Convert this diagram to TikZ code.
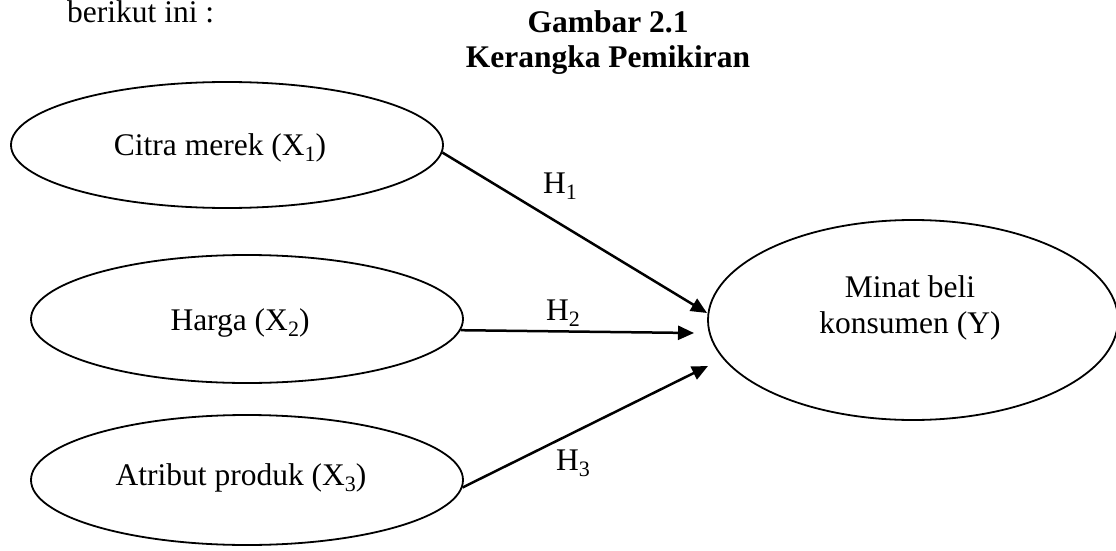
\documentclass[tikz,border=0pt]{standalone}
\usepackage{fontspec}
\setmainfont{Liberation Serif}
\usetikzlibrary{shapes.geometric,arrows.meta}
\newcommand\mysub[1]{\raisebox{-6pt}{\fontsize{22}{22}\selectfont #1}}
\tikzset{
  oval/.style={draw, ellipse, line width=1.8pt, inner sep=0pt},
  txt/.style={anchor=base, inner sep=0pt, font=\fontsize{31.5}{36}\selectfont},
  link/.style={line width=2.5pt, -{Triangle[length=16pt,width=14pt]}},
}
\begin{document}
\begin{tikzpicture}[x=1pt,y=-1pt]
\useasboundingbox (0,0) rectangle (1116,551);
% heading
\node[txt, anchor=base west] (intro) at (67,23) {berikut ini :};
\node[txt, font=\fontsize{31.5}{36}\selectfont\bfseries] (title1) at (608,33) {Gambar 2.1};
\node[txt, font=\fontsize{31.5}{36}\selectfont\bfseries] (title2) at (608,67) {Kerangka Pemikiran};
% ellipses
\node[oval, minimum width=432pt, minimum height=126pt] (e1) at (227,145) {};
\node[oval, minimum width=432pt, minimum height=128pt] (e2) at (247,319) {};
\node[oval, minimum width=432pt, minimum height=130pt] (e3) at (247,480) {};
\node[oval, minimum width=410pt, minimum height=200pt] (e4) at (913,320) {};
% texts
\node[txt] (l1) at (220,155) {Citra merek (X\mysub{1})};
\node[txt] (l2) at (240,330) {Harga (X\mysub{2})};
\node[txt] (l3) at (241,485) {Atribut produk (X\mysub{3})};
\node[txt] (l4a) at (910,297) {Minat beli};
\node[txt] (l4b) at (910,333) {konsumen (Y)};
% arrow ends
\coordinate (t1) at (707,313);
\coordinate (t2) at (694,333);
\coordinate (t3) at (708,366);
\draw[link] (e1.-2) -- (t1);
\draw[link] (e2.-3) -- (t2);
\draw[link] (e3.-2) -- (t3);
% hypothesis labels
\node[txt] (h1) at (560,193) {H\mysub{1}};
\node[txt] (h2) at (563,320) {H\mysub{2}};
\node[txt] (h3) at (573,470) {H\mysub{3}};
\end{tikzpicture}
\end{document}
